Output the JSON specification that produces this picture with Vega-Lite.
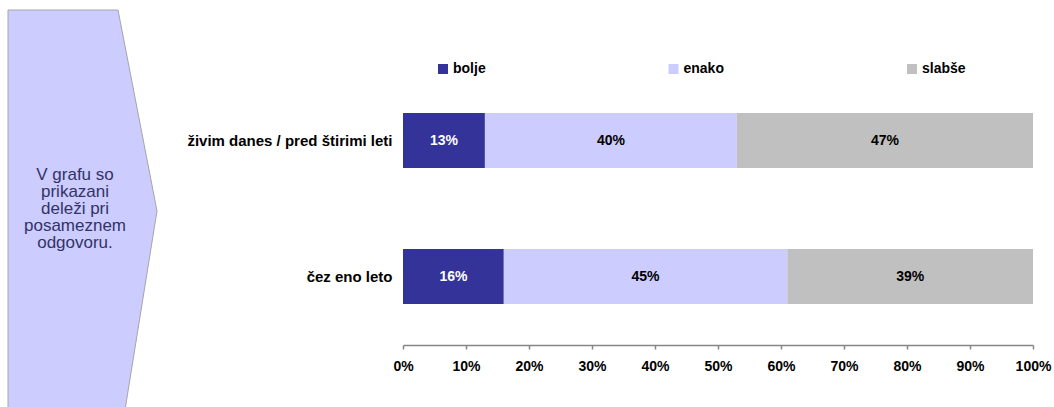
{
  "$schema": "https://vega.github.io/schema/vega-lite/v6.json",
  "autosize": {"type": "none"},
  "width": 630,
  "height": 345,
  "padding": {"left": 403, "top": 0, "right": 21, "bottom": 62},
  "background": "white",
  "config": {"view": {"stroke": null}, "font": "Liberation Sans"},
  "datasets": {
    "shape": [
      {"px": 8, "top": 10, "bot": 410},
      {"px": 118, "top": 10, "bot": 410},
      {"px": 125, "top": 46, "bot": 410},
      {"px": 157, "top": 211, "bot": 211}
    ],
    "note": [
      {"tx": 75, "ty": 175, "label": "V grafu so\nprikazani\ndeleži pri\nposameznem\nodgovoru."}
    ],
    "answers": [
      {"q": "živim danes / pred štirimi leti", "odg": "bolje", "v": 0.13, "o": 1},
      {"q": "živim danes / pred štirimi leti", "odg": "enako", "v": 0.40, "o": 2},
      {"q": "živim danes / pred štirimi leti", "odg": "slabše", "v": 0.47, "o": 3},
      {"q": "čez eno leto", "odg": "bolje", "v": 0.16, "o": 1},
      {"q": "čez eno leto", "odg": "enako", "v": 0.45, "o": 2},
      {"q": "čez eno leto", "odg": "slabše", "v": 0.39, "o": 3}
    ]
  },
  "layer": [
    {
      "data": {"name": "answers"},
      "mark": {"type": "bar"},
      "encoding": {
        "y": {
          "field": "q", "type": "nominal",
          "sort": ["živim danes / pred štirimi leti", "čez eno leto"],
          "scale": {"type": "band", "domain": ["živim danes / pred štirimi leti", "čez eno leto"], "paddingInner": 0.596, "paddingOuter": 0.566, "align": 0.734},
          "axis": {"orient": "left", "title": null, "domain": false, "ticks": false, "labelFontSize": 15, "labelFontWeight": "bold", "labelColor": "black", "labelPadding": 11, "labelLimit": 0}
        },
        "x": {
          "field": "v", "type": "quantitative", "stack": "zero",
          "scale": {"domain": [0, 1], "nice": false},
          "axis": {
            "orient": "bottom", "title": null, "format": ".0%", "values": [0, 0.1, 0.2, 0.3, 0.4, 0.5, 0.6, 0.7, 0.8, 0.9, 1],
            "grid": false, "domainColor": "#868686", "domainWidth": 1.5, "tickColor": "#868686", "tickWidth": 1.5, "tickSize": 4,
            "labelFontSize": 14, "labelFontWeight": "bold", "labelColor": "black", "labelPadding": 10, "labelFlush": false, "labelOverlap": false
          }
        },
        "color": {
          "field": "odg", "type": "nominal",
          "scale": {"domain": ["bolje", "enako", "slabše"], "range": ["#333399", "#ccccff", "#c0c0c0"]},
          "legend": {
            "title": null, "orient": "none", "legendX": 33, "legendY": 62, "direction": "horizontal", "columns": 3,
            "columnPadding": 180.5, "symbolType": "square", "symbolSize": 100, "symbolStrokeWidth": 0, "padding": 0,
            "labelFontSize": 14, "labelFontWeight": "bold", "labelColor": "black", "labelOffset": 3
          }
        },
        "order": {"field": "o", "type": "quantitative"}
      }
    },
    {
      "data": {"name": "answers"},
      "transform": [
        {"stack": "v", "groupby": ["q"], "sort": [{"field": "o", "order": "ascending"}], "as": ["s0", "s1"]},
        {"calculate": "(datum.s0 + datum.s1) / 2", "as": "mid"}
      ],
      "mark": {"type": "text", "fontSize": 14, "fontWeight": "bold", "align": "center", "baseline": "middle"},
      "encoding": {
        "y": {"field": "q", "type": "nominal", "sort": ["živim danes / pred štirimi leti", "čez eno leto"],
              "scale": {"type": "band", "domain": ["živim danes / pred štirimi leti", "čez eno leto"], "paddingInner": 0.596, "paddingOuter": 0.566, "align": 0.734},
              "axis": null},
        "x": {"field": "mid", "type": "quantitative", "scale": {"domain": [0, 1], "nice": false}, "axis": null},
        "text": {"field": "v", "type": "quantitative", "format": ".0%"},
        "color": {"condition": {"test": "datum.odg === 'bolje'", "value": "white"}, "value": "black"}
      }
    },
    {
      "data": {"name": "shape"},
      "mark": {"type": "area", "orient": "vertical", "fill": "#ccccff", "stroke": "#a6a6a6", "strokeWidth": 1, "clip": false},
      "encoding": {
        "x": {"field": "px", "type": "quantitative", "scale": {"domain": [403, 1033], "nice": false, "zero": false}, "axis": null},
        "y": {"field": "top", "type": "quantitative", "scale": {"domain": [0, 345], "reverse": true, "nice": false, "zero": false}, "axis": null},
        "y2": {"field": "bot"}
      }
    },
    {
      "data": {"name": "note"},
      "mark": {"type": "text", "align": "center", "baseline": "middle", "lineBreak": "\n", "fontSize": 17, "lineHeight": 17, "color": "#333366"},
      "encoding": {
        "x": {"field": "tx", "type": "quantitative", "scale": {"domain": [403, 1033], "nice": false, "zero": false}, "axis": null},
        "y": {"field": "ty", "type": "quantitative", "scale": {"domain": [0, 345], "reverse": true, "nice": false, "zero": false}, "axis": null},
        "text": {"field": "label", "type": "nominal"}
      }
    }
  ],
  "resolve": {"scale": {"x": "independent", "y": "independent"}}
}
